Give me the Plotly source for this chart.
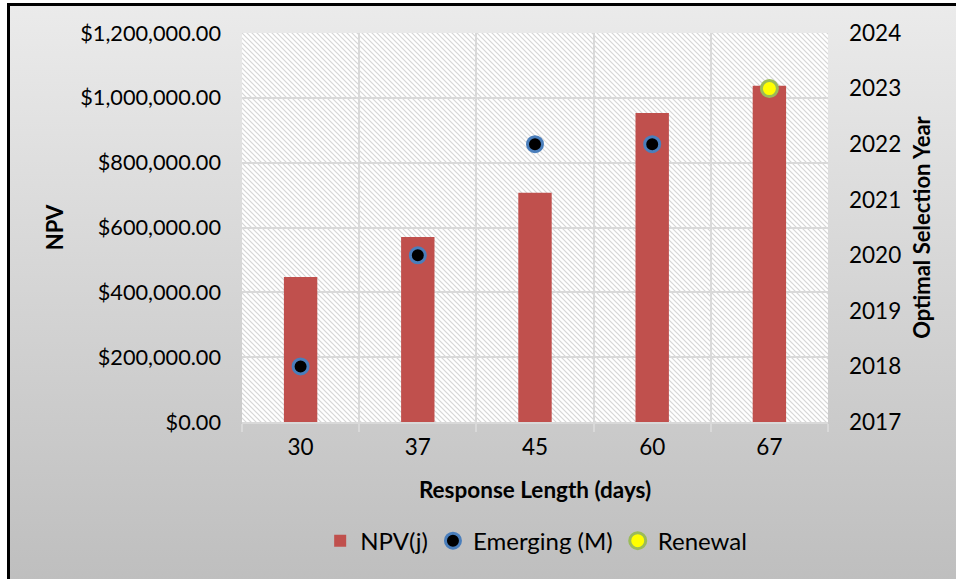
import base64
import plotly.graph_objects as go

categories = ["30", "37", "45", "60", "67"]
npv_values = [447000, 571000, 707000, 953000, 1037000]
emerging_x = ["30", "37", "45", "60"]
emerging_year = [2018, 2020, 2022, 2022]
renewal_x = ["67"]
renewal_year = [2023]

W, H = 956, 579
ML, MR, MT, MB = 242, 128, 33, 157
PW, PH = W - ML - MR, H - MT - MB

def svg_uri(svg):
    return "data:image/svg+xml;base64," + base64.b64encode(svg.encode()).decode()

bg_svg = (
    '<svg xmlns="http://www.w3.org/2000/svg" width="100" height="100" viewBox="0 0 100 100" preserveAspectRatio="none">'
    '<defs><linearGradient id="g" x1="0" y1="0" x2="0" y2="1">'
    '<stop offset="0" stop-color="#ebebeb"/><stop offset="1" stop-color="#bdbdbd"/></linearGradient></defs>'
    '<rect x="0" y="0" width="100" height="100" fill="url(#g)"/></svg>'
)
hatch_svg = (
    '<svg xmlns="http://www.w3.org/2000/svg" width="586" height="389" viewBox="0 0 586 389" preserveAspectRatio="none">'
    '<defs><pattern id="p" width="5" height="5" patternUnits="userSpaceOnUse">'
    '<rect width="5" height="5" fill="#ffffff"/>'
    '<path d="M-1,-1 L6,6 M-1,4 L1,6 M4,-1 L6,1" stroke="#d6d6d6" stroke-width="1.2"/></pattern></defs>'
    '<rect width="586" height="389" fill="url(#p)"/></svg>'
)

def px(xp):
    return (xp - ML) / PW

def py(yp):
    return 1 - (yp - MT) / PH

bx0, by0 = 7, 3
images = [
    dict(source=svg_uri(bg_svg), xref="paper", yref="paper",
         x=px(bx0), y=py(by0), sizex=(W - bx0 + 20) / PW, sizey=(H - by0 + 20) / PH,
         sizing="stretch", xanchor="left", yanchor="top", layer="below"),
    dict(source=svg_uri(hatch_svg), xref="paper", yref="paper",
         x=0, y=1, sizex=1, sizey=1, sizing="stretch",
         xanchor="left", yanchor="top", layer="below"),
]
shapes = [
    dict(type="line", xref="paper", yref="paper", x0=px(8.5), x1=px(8.5), y0=py(3), y1=py(H + 10),
         line=dict(color="#000000", width=3), layer="above"),
    dict(type="line", xref="paper", yref="paper", x0=px(7), x1=px(W + 10), y0=py(4.5), y1=py(4.5),
         line=dict(color="#000000", width=3), layer="above"),
]

FONT = "Lato"
fig = go.Figure()
fig.add_trace(go.Bar(x=categories, y=npv_values, name="NPV(j)",
                     marker=dict(color="#c0504d", line=dict(width=0)), width=0.285))
fig.add_trace(go.Scatter(x=emerging_x, y=emerging_year, yaxis="y2", mode="markers",
                         name="Emerging (M)",
                         marker=dict(color="#000000", size=15, line=dict(color="#4a7ebb", width=3))))
fig.add_trace(go.Scatter(x=renewal_x, y=renewal_year, yaxis="y2", mode="markers",
                         name="Renewal",
                         marker=dict(color="#ffff00", size=16, line=dict(color="#9bbb59", width=3))))

fig.update_layout(
    width=W, height=H,
    margin=dict(l=ML, r=MR, t=MT, b=MB, pad=0),
    paper_bgcolor="#ffffff", plot_bgcolor="rgba(0,0,0,0)",
    images=images, shapes=shapes,
    font=dict(family=FONT, size=23, color="#000000"),
    showlegend=True,
    legend=dict(orientation="h", x=0.502, xanchor="center", y=-0.306, yanchor="middle",
                bgcolor="rgba(0,0,0,0)", font=dict(size=24), itemwidth=30, tracegroupgap=0),
    xaxis=dict(type="category", tickson="boundaries", showgrid=True, gridcolor="#d9d9d9", gridwidth=1.5,
               ticks="outside", ticklen=8, tickcolor="#d9d9d9", tickwidth=1.5,
               showline=True, linecolor="#d9d9d9", linewidth=1.5, ticklabelstandoff=4,
               tickfont=dict(size=22.5),
               title=dict(text="<b>Response Length (days)</b>", font=dict(size=22.5), standoff=23),
               mirror=False),
    yaxis=dict(range=[0, 1200000], dtick=200000, tickformat="$,.2f", showgrid=True,
               gridcolor="#d9d9d9", gridwidth=1.5, zeroline=False, ticks="", ticklabelstandoff=20,
               tickfont=dict(size=21.7),
               title=dict(text="<b>NPV</b>", font=dict(size=22), standoff=10)),
    yaxis2=dict(range=[2017, 2024], dtick=1, overlaying="y", side="right", showgrid=False,
                zeroline=False, ticks="", ticklabelstandoff=20, tickformat="d",
                tickfont=dict(size=22.5),
                title=dict(text="<b>Optimal Selection Year</b>", font=dict(size=22), standoff=14)),
)

fig.write_html("out.html", config={"displayModeBar": False},
               post_script="document.body.style.margin='0';document.body.style.overflow='hidden';")
